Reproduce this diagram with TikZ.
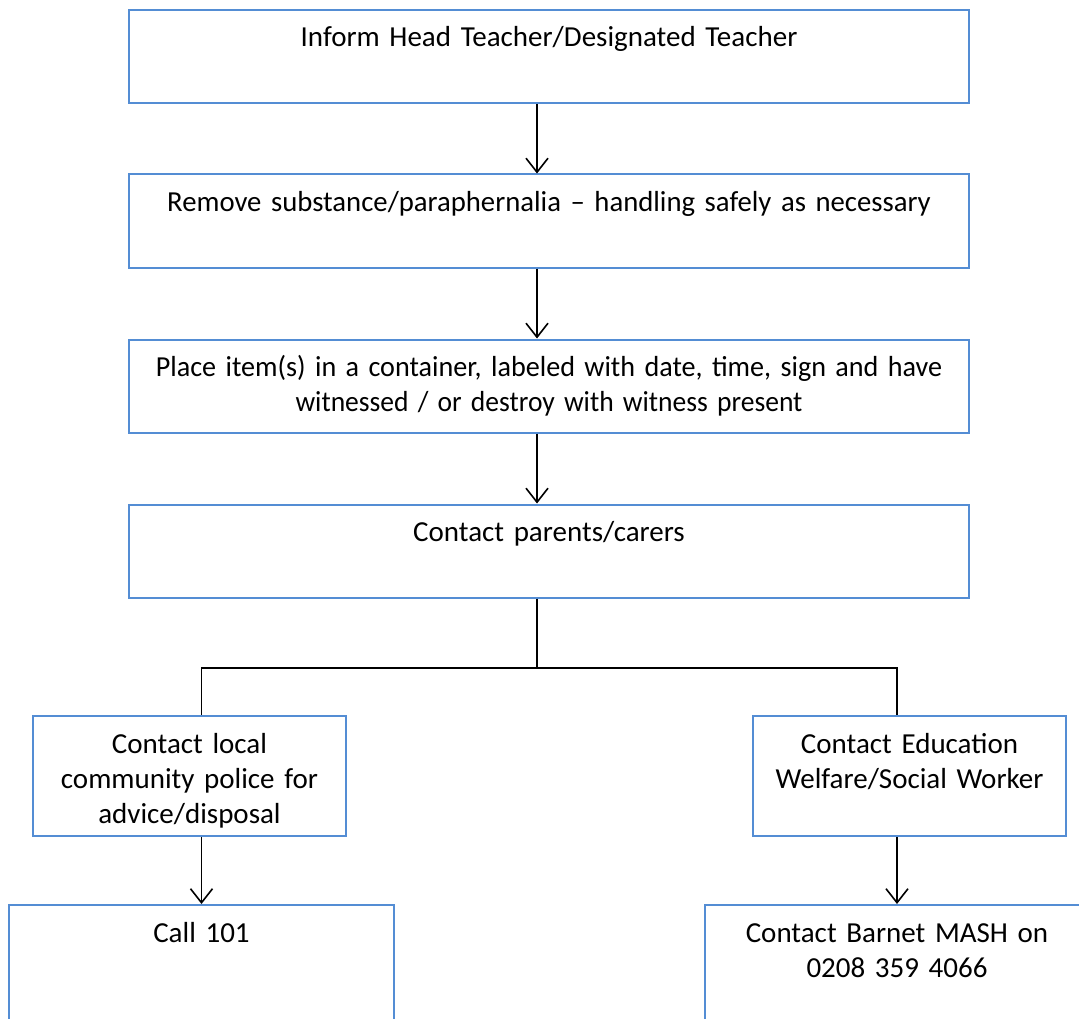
\documentclass[tikz,border=0pt]{standalone}
\usepackage{fontspec}
\setmainfont{Carlito}
\usetikzlibrary{arrows.meta}
\definecolor{boxblue}{RGB}{84,141,212}

\begin{document}
\begin{tikzpicture}[x=1pt, y=1pt,
  box/.style={draw=boxblue, line width=2pt, align=center, inner xsep=0pt, inner ysep=0pt,
    text height=37pt, font=\fontsize{29}{35}\selectfont},
  wide/.style={box, minimum width=840pt, text width=820pt, text depth=56pt},
  side/.style={box, minimum width=313pt, text width=300pt, text depth=83pt},
  last/.style={box, minimum width=385pt, text width=370pt, text depth=103pt},
  arr/.style={draw, line width=1.6pt, -{Straight Barb[length=14pt,width=22pt]}},
  link/.style={draw, line width=1.6pt}]
  \useasboundingbox (0,0) rectangle (1079,-1019);
  \fill[white] (0,0) rectangle (1079,-1019);
  \clip (0,0) rectangle (1079,-1019);

  \node[wide] (inform)  at (549,-56.5) {Inform Head Teacher/Designated Teacher};
  \node[wide] (remove)  at (549,-221)  {\scalebox{0.99}[1]{Remove substance/paraphernalia -- handling safely as necessary}};
  \node[wide] (place)   at (549,-386)  {\scalebox{0.97}[1]{Place item(s) in a container, labeled with date, time, sign and have}\\
                                        \scalebox{0.95}[1]{witnessed / or destroy with witness present}};
  \node[wide] (parents) at (549,-551)  {Contact parents/carers};

  \node[side] (police)  at (189.5,-776) {Contact local\\ community police for\\ advice/disposal};
  \node[side] (welfare) at (909.5,-776) {Contact Education\\ Welfare/Social Worker};

  \node[last] (call) at (201.5,-975) {Call 101};
  \node[last] (mash) at (897,-975)   {Contact Barnet MASH on\\ 0208 359 4066};

  % main line
  \coordinate (spine) at (537,0);
  \coordinate (split) at (537,-668);
  \draw[arr] (inform.south -| spine) -- (remove.north -| spine);
  \draw[arr] (remove.south -| spine) -- (place.north -| spine);
  \draw[arr] (place.south -| spine) -- (parents.north -| spine);

  % branches
  \draw[link] (parents.south -| spine) -- (split);
  \draw[link] (split) -| (police.north -| call.north);
  \draw[link] (split) -| (welfare.north -| mash.north);
  \draw[arr] (police.south -| call.north) -- (call.north);
  \draw[arr] (welfare.south -| mash.north) -- (mash.north);
\end{tikzpicture}
\end{document}
